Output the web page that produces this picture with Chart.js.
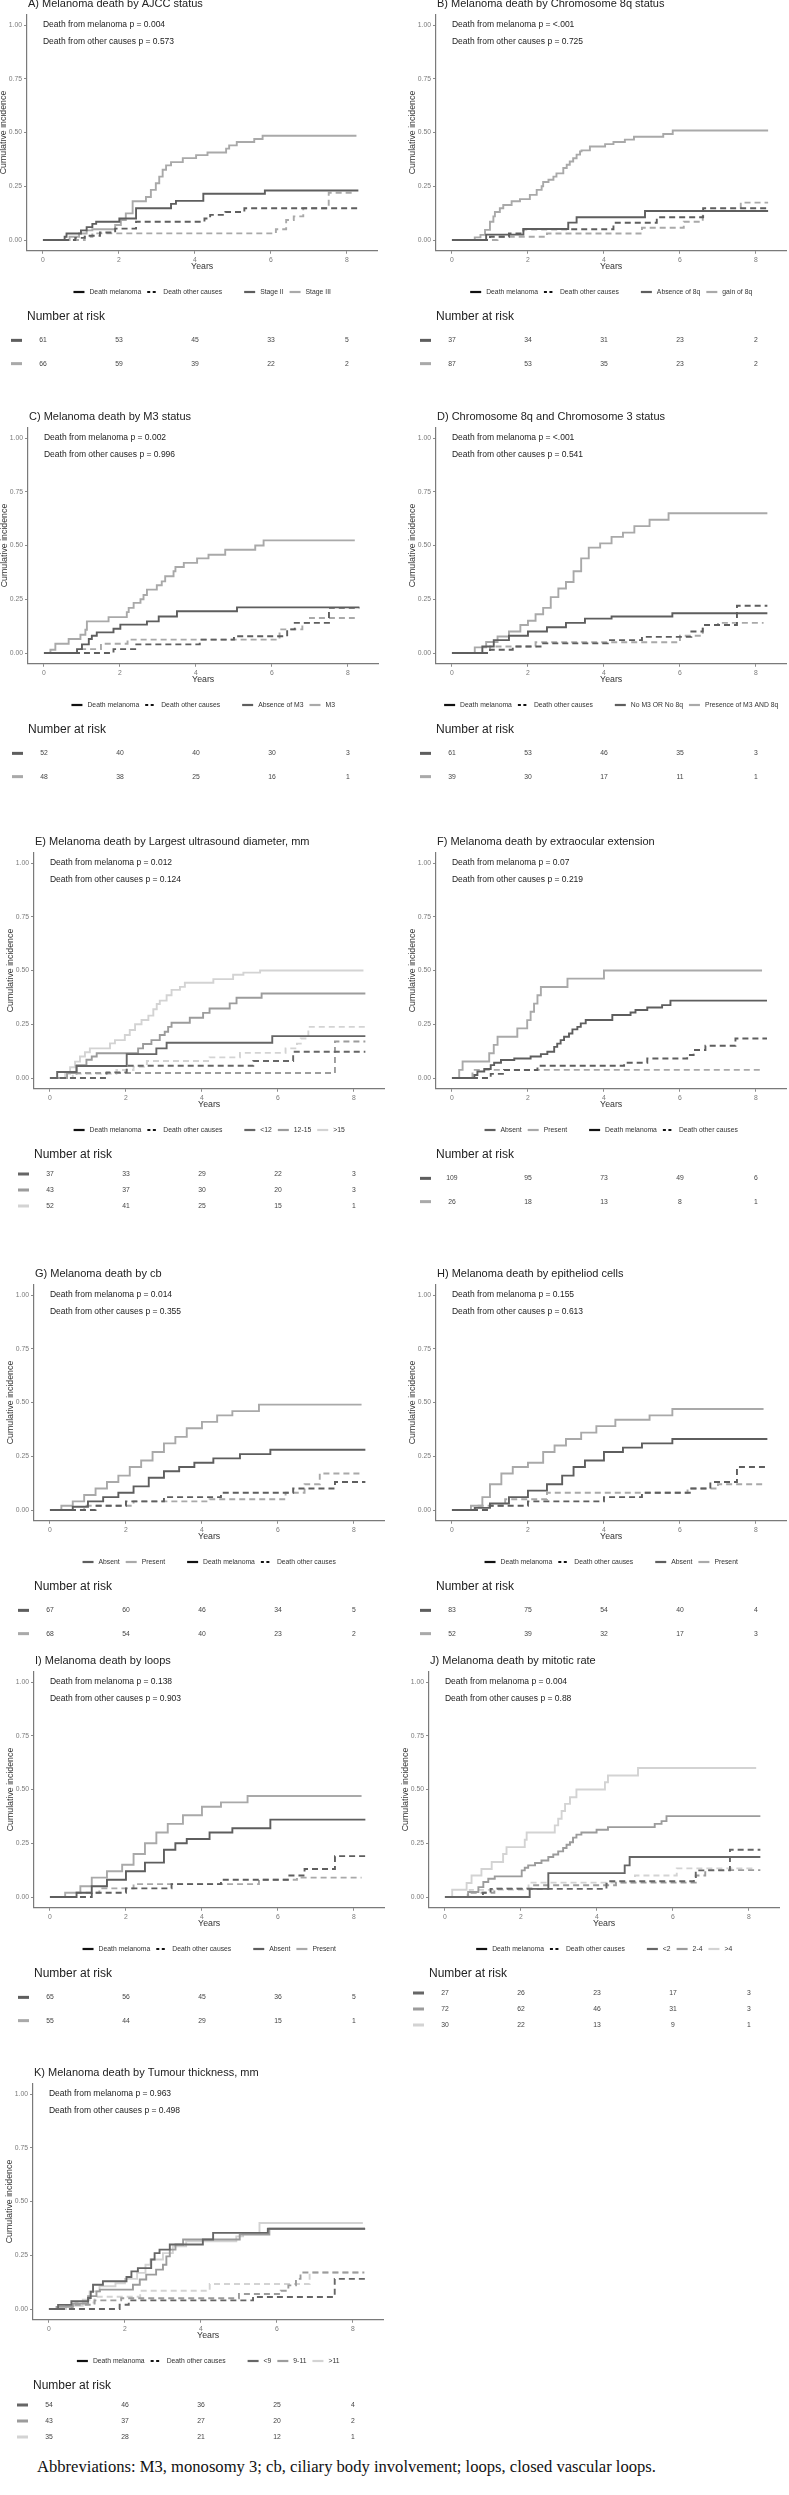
<!DOCTYPE html>
<html>
<head>
<meta charset="utf-8">
<script src="https://cdn.jsdelivr.net/npm/chart.js@4.4.0/dist/chart.umd.min.js"></script>
<style>
  body { margin: 0; background: #fff; width: 789px; height: 2495px; position: relative; overflow: hidden; }
  canvas { position: absolute; }
  #abbr { position: absolute; left: 37px; top: 2457px; font: 16.6px "Liberation Serif", "Times New Roman", serif; color: #111; white-space: nowrap; }
</style>
</head>
<body>
<div id="abbr">Abbreviations: M3, monosomy 3; cb, ciliary body involvement; loops, closed vascular loops.</div>
<script>
// axis ticks
const yearTicks = [0, 2, 4, 6, 8];
const incidenceTicks = [0, 0.25, 0.5, 0.75, 1];

// curves: [years, cumulative incidence]
// A) AJCC
const aStage2Mel = [[0,0],[0.57,0.015],[0.62,0.03],[1.0,0.045],[1.15,0.06],[1.3,0.075],[1.4,0.085],[2.01,0.1],[2.45,0.148],[3.37,0.168],[3.5,0.182],[4.22,0.215],[5.84,0.23],[8.3,0.23]];
const aStage2Oth = [[0,0],[0.85,0.01],[1.1,0.02],[1.5,0.035],[1.9,0.053],[2.45,0.085],[4.25,0.1],[4.4,0.117],[4.8,0.13],[5.3,0.148],[8.3,0.148]];
const aStage3Mel = [[0,0],[0.7,0.015],[0.95,0.03],[1.15,0.045],[1.3,0.05],[1.9,0.07],[2.05,0.093],[2.18,0.124],[2.36,0.18],[2.71,0.2],[2.84,0.233],[2.97,0.264],[3.06,0.295],[3.15,0.327],[3.24,0.347],[3.37,0.362],[3.68,0.381],[4.03,0.395],[4.33,0.407],[4.82,0.425],[4.9,0.44],[5.1,0.456],[5.56,0.47],[5.78,0.485],[8.25,0.485]];
const aStage3Oth = [[0,0],[1.1,0.015],[1.3,0.031],[6.13,0.05],[6.4,0.093],[6.6,0.11],[6.85,0.148],[7.52,0.22],[8.2,0.22]];
// B) 8q
const bAbsMel = [[0,0],[0.9,0.025],[1.88,0.051],[3.06,0.081],[3.28,0.106],[5.08,0.135],[8.32,0.135]];
const bAbsOth = [[0,0],[1.0,0.015],[1.5,0.03],[1.88,0.05],[4.25,0.08],[5.39,0.106],[6.61,0.148],[8.32,0.148]];
const bGainMel = [[0,0],[0.6,0.012],[0.75,0.024],[0.87,0.047],[1.0,0.085],[1.09,0.11],[1.13,0.13],[1.26,0.148],[1.35,0.163],[1.57,0.18],[1.79,0.19],[2.05,0.21],[2.23,0.233],[2.36,0.25],[2.4,0.27],[2.54,0.28],[2.67,0.295],[2.75,0.31],[2.93,0.335],[3.02,0.35],[3.1,0.365],[3.19,0.38],[3.28,0.397],[3.37,0.412],[3.41,0.417],[3.63,0.435],[4.03,0.446],[4.25,0.456],[4.55,0.467],[4.79,0.48],[5.56,0.493],[5.81,0.509],[8.32,0.509]];
const bGainOth = [[0,0],[1.2,0.015],[2.5,0.03],[5.0,0.057],[6.1,0.085],[6.6,0.135],[7.6,0.174],[8.32,0.174]];
// C) M3
const cAbsMel = [[0,0],[0.87,0.018],[1.0,0.04],[1.18,0.065],[1.26,0.08],[1.39,0.096],[1.83,0.113],[2.01,0.132],[2.71,0.147],[3.02,0.17],[3.5,0.194],[5.08,0.212],[8.3,0.212]];
const cAbsOth = [[0,0],[1.83,0.018],[2.4,0.04],[4.1,0.062],[5.0,0.078],[6.4,0.11],[6.6,0.14],[7.5,0.21],[8.3,0.21]];
const cM3Mel = [[0,0],[0.17,0.015],[0.3,0.043],[0.65,0.065],[0.96,0.085],[1.09,0.108],[1.13,0.147],[1.7,0.167],[2.18,0.19],[2.23,0.21],[2.36,0.233],[2.54,0.25],[2.62,0.27],[2.71,0.295],[2.97,0.315],[3.1,0.333],[3.19,0.357],[3.41,0.38],[3.46,0.4],[3.68,0.419],[4.03,0.44],[4.33,0.457],[4.77,0.48],[5.56,0.5],[5.78,0.524],[8.18,0.524]];
const cM3Oth = [[0,0],[0.95,0.018],[1.5,0.043],[2.2,0.062],[6.2,0.11],[6.8,0.14],[7.0,0.163],[8.18,0.163]];
// D) 8q and M3
const dNoMel = [[0,0],[0.8,0.03],[1.1,0.06],[1.5,0.08],[2.0,0.1],[2.5,0.12],[3.0,0.14],[3.5,0.16],[4.2,0.17],[5.8,0.185],[8.3,0.185]];
const dNoOth = [[0,0],[1.0,0.015],[1.6,0.03],[2.4,0.045],[4.1,0.06],[5.0,0.075],[6.3,0.1],[6.6,0.13],[7.5,0.22],[8.3,0.22]];
const dBothMel = [[0,0],[0.6,0.026],[0.9,0.051],[1.2,0.077],[1.5,0.1],[1.8,0.13],[2.0,0.15],[2.2,0.18],[2.4,0.21],[2.6,0.26],[2.8,0.3],[3.0,0.33],[3.2,0.38],[3.4,0.44],[3.6,0.49],[3.9,0.51],[4.2,0.54],[4.5,0.56],[4.8,0.59],[5.2,0.62],[5.7,0.65],[8.3,0.65]];
const dBothOth = [[0,0],[1.0,0.03],[2.2,0.05],[6.0,0.08],[6.6,0.13],[7.0,0.14],[8.2,0.14]];
// E) ultrasound diameter
const eLt12Mel = [[0,0],[0.19,0.028],[0.7,0.056],[2.02,0.111],[2.8,0.138],[3.07,0.164],[5.85,0.195],[8.3,0.195]];
const eLt12Oth = [[0,0],[1.49,0.026],[2.02,0.057],[5.35,0.079],[6.4,0.122],[8.3,0.122]];
const e1215Mel = [[0,0],[0.45,0.023],[0.7,0.06],[0.96,0.085],[1.1,0.1],[1.23,0.115],[2.32,0.138],[2.45,0.158],[2.67,0.176],[2.89,0.2],[3.02,0.215],[3.11,0.238],[3.2,0.257],[3.68,0.28],[4.03,0.303],[4.2,0.323],[4.73,0.347],[4.91,0.373],[5.57,0.393],[8.3,0.393]];
const e1215Oth = [[0,0],[0.7,0.023],[7.5,0.17],[8.3,0.17]];
const eGt15Mel = [[0,0],[0.4,0.02],[0.53,0.05],[0.66,0.076],[0.79,0.1],[0.92,0.12],[1.05,0.138],[1.58,0.161],[1.71,0.176],[1.97,0.2],[2.1,0.223],[2.24,0.25],[2.41,0.27],[2.59,0.29],[2.72,0.32],[2.81,0.344],[2.89,0.36],[3.07,0.385],[3.2,0.41],[3.42,0.424],[3.55,0.443],[4.3,0.46],[4.82,0.48],[5.09,0.49],[5.53,0.5],[8.25,0.5]];
const eGt15Oth = [[0,0],[0.6,0.02],[1.75,0.037],[2.2,0.052],[2.55,0.079],[4.2,0.096],[5.0,0.117],[6.2,0.138],[6.5,0.16],[6.6,0.184],[6.8,0.238],[8.3,0.238]];
// F) extraocular extension
const fAbsMel = [[0,0],[0.59,0.014],[0.67,0.03],[0.85,0.042],[1.02,0.06],[1.11,0.071],[1.29,0.084],[1.64,0.091],[2.07,0.1],[2.34,0.111],[2.51,0.122],[2.69,0.145],[2.77,0.16],[2.86,0.176],[2.95,0.192],[3.08,0.207],[3.17,0.226],[3.3,0.238],[3.39,0.254],[3.52,0.27],[4.22,0.293],[4.7,0.305],[4.83,0.316],[5.14,0.328],[5.53,0.339],[5.75,0.36],[8.29,0.36]];
const fAbsOth = [[0,0],[1.02,0.019],[1.37,0.037],[2.25,0.057],[4.53,0.071],[5.14,0.091],[6.19,0.107],[6.36,0.13],[6.67,0.15],[7.46,0.184],[8.29,0.184]];
const fPresMel = [[0,0],[0.19,0.038],[0.28,0.077],[0.98,0.115],[1.1,0.154],[1.2,0.192],[1.72,0.231],[1.98,0.269],[2.07,0.308],[2.16,0.346],[2.25,0.385],[2.34,0.423],[3.04,0.462],[4.0,0.5],[8.16,0.5]];
const fPresOth = [[0,0],[0.54,0.038],[8.16,0.038]];
// G) cb
const gAbsMel = [[0,0],[0.6,0.015],[1.0,0.04],[1.4,0.06],[1.8,0.08],[2.2,0.11],[2.6,0.15],[3.0,0.18],[3.4,0.2],[3.8,0.22],[4.3,0.24],[5.0,0.26],[5.8,0.28],[8.3,0.28]];
const gAbsOth = [[0,0],[1.2,0.02],[2.0,0.04],[3.0,0.06],[4.5,0.08],[6.4,0.1],[7.5,0.13],[8.3,0.13]];
const gPresMel = [[0,0],[0.3,0.02],[0.6,0.04],[0.9,0.07],[1.2,0.1],[1.5,0.13],[1.8,0.16],[2.1,0.2],[2.4,0.23],[2.7,0.27],[3.0,0.31],[3.3,0.34],[3.6,0.38],[4.0,0.41],[4.4,0.44],[4.8,0.46],[5.5,0.49],[8.2,0.49]];
const gPresOth = [[0,0],[0.9,0.02],[2.2,0.04],[4.2,0.05],[6.2,0.08],[6.7,0.12],[7.1,0.17],[8.2,0.17]];
// H) epithelioid cells
const hAbsMel = [[0,0],[0.6,0.01],[1.0,0.03],[1.5,0.06],[2.0,0.09],[2.5,0.12],[2.9,0.16],[3.2,0.2],[3.5,0.23],[4.0,0.27],[4.5,0.29],[5.0,0.31],[5.8,0.33],[8.3,0.33]];
const hAbsOth = [[0,0],[1.0,0.02],[2.0,0.04],[4.0,0.06],[5.0,0.08],[6.3,0.1],[6.8,0.13],[7.5,0.2],[8.3,0.2]];
const hPresMel = [[0,0],[0.5,0.02],[0.8,0.06],[1.0,0.12],[1.3,0.17],[1.6,0.2],[2.0,0.22],[2.4,0.27],[2.7,0.3],[3.0,0.33],[3.4,0.36],[3.8,0.39],[4.3,0.42],[5.2,0.44],[5.8,0.47],[8.2,0.47]];
const hPresOth = [[0,0],[0.7,0.02],[1.4,0.05],[2.5,0.08],[6.2,0.1],[7.0,0.12],[8.2,0.12]];
// I) loops
const iAbsMel = [[0,0],[0.7,0.02],[1.1,0.05],[1.5,0.08],[2.0,0.12],[2.5,0.16],[3.0,0.22],[3.3,0.25],[3.6,0.27],[4.2,0.3],[4.8,0.32],[5.8,0.36],[8.3,0.36]];
const iAbsOth = [[0,0],[1.1,0.02],[2.0,0.04],[3.2,0.06],[4.5,0.08],[6.3,0.1],[6.7,0.13],[7.5,0.19],[8.3,0.19]];
const iPresMel = [[0,0],[0.4,0.02],[0.8,0.05],[1.1,0.09],[1.5,0.12],[1.9,0.15],[2.2,0.2],[2.5,0.25],[2.8,0.3],[3.1,0.34],[3.5,0.38],[4.0,0.42],[4.5,0.44],[5.2,0.47],[8.2,0.47]];
const iPresOth = [[0,0],[0.7,0.02],[1.3,0.04],[2.2,0.06],[5.5,0.08],[6.5,0.09],[8.2,0.09]];
// J) mitotic rate
const jLt2Mel = [[0,0],[2.23,0.038],[2.72,0.111],[4.73,0.147],[4.86,0.186],[8.3,0.186]];
const jLt2Oth = [[0,0],[1.0,0.02],[1.2,0.038],[4.25,0.062],[4.3,0.073],[6.55,0.093],[6.6,0.124],[7.5,0.22],[8.3,0.22]];
const j24Mel = [[0,0],[0.61,0.023],[0.88,0.046],[1.01,0.07],[1.14,0.085],[1.31,0.096],[2.02,0.124],[2.1,0.136],[2.19,0.147],[2.37,0.158],[2.54,0.17],[2.72,0.186],[2.85,0.198],[2.98,0.212],[3.11,0.228],[3.2,0.243],[3.29,0.255],[3.37,0.276],[3.46,0.29],[3.59,0.3],[3.99,0.313],[4.29,0.325],[5.52,0.34],[5.7,0.353],[5.83,0.376],[8.3,0.376]];
const j24Oth = [[0,0],[0.6,0.02],[1.3,0.04],[2.3,0.055],[4.5,0.067],[6.6,0.1],[6.85,0.125],[8.3,0.125]];
const jGt4Mel = [[0,0],[0.19,0.034],[0.57,0.065],[0.7,0.1],[0.96,0.13],[1.23,0.163],[1.53,0.2],[1.62,0.232],[2.1,0.266],[2.15,0.3],[2.89,0.333],[2.98,0.364],[3.07,0.4],[3.16,0.433],[3.29,0.464],[3.46,0.5],[4.21,0.534],[4.29,0.565],[5.08,0.6],[8.19,0.6]];
const jGt4Oth = [[0,0],[0.65,0.033],[2.2,0.067],[5.0,0.1],[6.1,0.133],[8.19,0.133]];
// K) tumour thickness
const kLt9Mel = [[0,0],[0.24,0.019],[0.59,0.036],[1.03,0.051],[1.1,0.08],[1.16,0.113],[1.42,0.129],[2.04,0.149],[2.17,0.175],[2.34,0.19],[2.69,0.23],[2.78,0.26],[2.91,0.276],[3.18,0.3],[4.05,0.323],[4.32,0.354],[5.76,0.373],[8.32,0.373]];
const kLt9Oth = [[0,0],[1.86,0.02],[2.1,0.04],[5.37,0.056],[7.52,0.14],[8.32,0.14]];
const k911Mel = [[0,0],[0.2,0.01],[0.63,0.025],[1.03,0.06],[1.25,0.082],[1.34,0.09],[2.21,0.113],[2.39,0.137],[2.56,0.16],[2.82,0.183],[3.0,0.206],[3.09,0.245],[3.18,0.276],[3.33,0.3],[3.53,0.323],[5.02,0.346],[5.8,0.373],[8.32,0.373]];
const k911Oth = [[0,0],[0.6,0.02],[1.2,0.04],[1.9,0.05],[5.0,0.07],[6.1,0.085],[6.3,0.11],[6.5,0.14],[6.62,0.17],[8.3,0.17]];
const kGt11Mel = [[0,0],[0.45,0.015],[0.89,0.043],[1.07,0.082],[1.33,0.106],[1.75,0.12],[2.0,0.14],[2.32,0.168],[2.54,0.206],[2.67,0.23],[3.0,0.26],[3.26,0.292],[3.61,0.315],[4.93,0.338],[5.11,0.354],[5.54,0.4],[8.26,0.4]];
const kGt11Oth = [[0,0],[0.7,0.03],[1.2,0.057],[2.4,0.085],[4.23,0.116],[6.86,0.17],[8.26,0.17]];

// number at risk at yearTicks
const riskAStage2 = [61, 53, 45, 33, 5];
const riskAStage3 = [66, 59, 39, 22, 2];
const riskBAbs = [37, 34, 31, 23, 2];
const riskBGain = [87, 53, 35, 23, 2];
const riskCAbs = [52, 40, 40, 30, 3];
const riskCM3 = [48, 38, 25, 16, 1];
const riskDNo = [61, 53, 46, 35, 3];
const riskDBoth = [39, 30, 17, 11, 1];
const riskELt12 = [37, 33, 29, 22, 3];
const riskE1215 = [43, 37, 30, 20, 3];
const riskEGt15 = [52, 41, 25, 15, 1];
const riskFAbs = [109, 95, 73, 49, 6];
const riskFPres = [26, 18, 13, 8, 1];
const riskGAbs = [67, 60, 46, 34, 5];
const riskGPres = [68, 54, 40, 23, 2];
const riskHAbs = [83, 75, 54, 40, 4];
const riskHPres = [52, 39, 32, 17, 3];
const riskIAbs = [65, 56, 45, 36, 5];
const riskIPres = [55, 44, 29, 15, 1];
const riskJLt2 = [27, 26, 23, 17, 3];
const riskJ24 = [72, 62, 46, 31, 3];
const riskJGt4 = [30, 22, 13, 9, 1];
const riskKLt9 = [54, 46, 36, 25, 4];
const riskK911 = [43, 37, 27, 20, 2];
const riskKGt11 = [35, 28, 21, 12, 1];

const FONT = '"Liberation Sans", Arial, sans-serif';
Chart.defaults.font.family = FONT;

const DARK = '#5e5e5e', LIGHT = '#a9a9a9';
const G3 = ['#666666', '#9c9c9c', '#d3d3d3'];

const PX_YEAR = 38, PX_UNIT = 215;
const X_MIN = -0.42, X_MAX = 8.8, Y_MIN = -0.05, Y_MAX = 1.05;
const ZERO = 245;      // canvas y of the 0.00 line
const X_AXIS_H = 20;
// risk table band below the 0.00 line (strata spread evenly, like a discrete axis)
const TABLE_TOP = 86.4, TABLE_H = 51.2;

function rowY(r, n) {
  const step = TABLE_H / (n + 0.2);
  return ZERO + TABLE_TOP + step * (0.6 + r);
}

const panels = [
  { left: 0, zeroY: 240, axis: 27, title: 'A) Melanoma death by AJCC status', pMel: '0.004', pOth: '0.573', typeFirst: true,
    groups: [
      { label: 'Stage II', color: DARK, mel: aStage2Mel, oth: aStage2Oth, risk: riskAStage2 },
      { label: 'Stage III', color: LIGHT, mel: aStage3Mel, oth: aStage3Oth, risk: riskAStage3 }] },
  { left: 395, zeroY: 240, axis: 41, title: 'B) Melanoma death by Chromosome 8q status', pMel: '<.001', pOth: '0.725', typeFirst: true,
    groups: [
      { label: 'Absence of 8q', color: DARK, mel: bAbsMel, oth: bAbsOth, risk: riskBAbs },
      { label: 'gain of 8q', color: LIGHT, mel: bGainMel, oth: bGainOth, risk: riskBGain }] },
  { left: 0, zeroY: 653, axis: 28, title: 'C) Melanoma death by M3 status', pMel: '0.002', pOth: '0.996', typeFirst: true,
    groups: [
      { label: 'Absence of M3', color: DARK, mel: cAbsMel, oth: cAbsOth, risk: riskCAbs },
      { label: 'M3', color: LIGHT, mel: cM3Mel, oth: cM3Oth, risk: riskCM3 }] },
  { left: 395, zeroY: 653, axis: 41, title: 'D) Chromosome 8q and Chromosome 3 status', pMel: '<.001', pOth: '0.541', typeFirst: true,
    groups: [
      { label: 'No M3 OR No 8q', color: DARK, mel: dNoMel, oth: dNoOth, risk: riskDNo },
      { label: 'Presence of M3 AND 8q', color: LIGHT, mel: dBothMel, oth: dBothOth, risk: riskDBoth }] },
  { left: 0, zeroY: 1078, axis: 34, title: 'E) Melanoma death by Largest ultrasound diameter, mm', pMel: '0.012', pOth: '0.124', typeFirst: true,
    groups: [
      { label: '<12', color: G3[0], mel: eLt12Mel, oth: eLt12Oth, risk: riskELt12 },
      { label: '12-15', color: G3[1], mel: e1215Mel, oth: e1215Oth, risk: riskE1215 },
      { label: '>15', color: G3[2], mel: eGt15Mel, oth: eGt15Oth, risk: riskEGt15 }] },
  { left: 395, zeroY: 1078, axis: 41, title: 'F) Melanoma death by extraocular extension', pMel: '0.07', pOth: '0.219', typeFirst: false,
    groups: [
      { label: 'Absent', color: DARK, mel: fAbsMel, oth: fAbsOth, risk: riskFAbs },
      { label: 'Present', color: LIGHT, mel: fPresMel, oth: fPresOth, risk: riskFPres }] },
  { left: 0, zeroY: 1510, axis: 34, title: 'G) Melanoma death by cb', pMel: '0.014', pOth: '0.355', typeFirst: false,
    groups: [
      { label: 'Absent', color: DARK, mel: gAbsMel, oth: gAbsOth, risk: riskGAbs },
      { label: 'Present', color: LIGHT, mel: gPresMel, oth: gPresOth, risk: riskGPres }] },
  { left: 395, zeroY: 1510, axis: 41, title: 'H) Melanoma death by epitheliod cells', pMel: '0.155', pOth: '0.613', typeFirst: true,
    groups: [
      { label: 'Absent', color: DARK, mel: hAbsMel, oth: hAbsOth, risk: riskHAbs },
      { label: 'Present', color: LIGHT, mel: hPresMel, oth: hPresOth, risk: riskHPres }] },
  { left: 0, zeroY: 1897, axis: 34, title: 'I) Melanoma death by loops', pMel: '0.138', pOth: '0.903', typeFirst: true,
    groups: [
      { label: 'Absent', color: DARK, mel: iAbsMel, oth: iAbsOth, risk: riskIAbs },
      { label: 'Present', color: LIGHT, mel: iPresMel, oth: iPresOth, risk: riskIPres }] },
  { left: 395, zeroY: 1897, axis: 34, title: 'J) Melanoma death by mitotic rate', pMel: '0.004', pOth: '0.88', typeFirst: true,
    groups: [
      { label: '<2', color: G3[0], mel: jLt2Mel, oth: jLt2Oth, risk: riskJLt2 },
      { label: '2-4', color: G3[1], mel: j24Mel, oth: j24Oth, risk: riskJ24 },
      { label: '>4', color: G3[2], mel: jGt4Mel, oth: jGt4Oth, risk: riskJGt4 }] },
  { left: 0, zeroY: 2309, axis: 33, title: 'K) Melanoma death by Tumour thickness, mm', pMel: '0.963', pOth: '0.498', typeFirst: true,
    groups: [
      { label: '<9', color: G3[0], mel: kLt9Mel, oth: kLt9Oth, risk: riskKLt9 },
      { label: '9-11', color: G3[1], mel: k911Mel, oth: k911Oth, risk: riskK911 },
      { label: '>11', color: G3[2], mel: kGt11Mel, oth: kGt11Oth, risk: riskKGt11 }] },
];

function stepLine(points, color, dashed) {
  return {
    data: points.map(([x, y]) => ({ x, y })),
    borderColor: color,
    borderWidth: 1.9,
    borderDash: dashed ? [6, 4] : [],
    stepped: 'before',
    pointRadius: 0,
    fill: false,
  };
}

function extras(p) {
  return {
    id: 'extras',
    afterDraw(chart) {
      const ctx = chart.ctx;
      const xs = chart.scales.x, ys = chart.scales.y;
      const ca = chart.chartArea;
      const L = p.axis;
      const x0 = xs.getPixelForValue(0);
      const oneY = ys.getPixelForValue(1);
      const mid = (ca.left + ca.right) / 2;
      ctx.save();
      ctx.textBaseline = 'middle';

      // title + p values
      ctx.fillStyle = '#222';
      ctx.textAlign = 'left';
      ctx.font = '11px ' + FONT;
      ctx.fillText(p.title, L + 1, oneY - 21);
      ctx.font = '8.5px ' + FONT;
      ctx.fillText('Death from melanoma p = ' + p.pMel, x0, oneY);
      ctx.fillText('Death from other causes p = ' + p.pOth, x0, oneY + 17);

      // axis titles
      ctx.fillStyle = '#333';
      ctx.textAlign = 'center';
      ctx.font = '8.8px ' + FONT;
      ctx.fillText('Years', mid, ZERO + 27);
      ctx.save();
      ctx.translate(L - 23, (ca.top + ca.bottom) / 2);
      ctx.rotate(-Math.PI / 2);
      ctx.fillText('Cumulative incidence', 0, 0);
      ctx.restore();

      // legend: linetype block and colour block
      ctx.font = '6.8px ' + FONT;
      const typeItems = [
        { label: 'Death melanoma', color: '#111', dash: [] },
        { label: 'Death other causes', color: '#111', dash: [3, 2.5] }];
      const colItems = p.groups.map(g => ({ label: g.label, color: g.color, dash: [] }));
      const blocks = p.typeFirst ? [typeItems, colItems] : [colItems, typeItems];
      const KEY = 11, KGAP = 5, IGAP = 6, BGAP = 22;
      const blockW = b => b.reduce((s, it) => s + KEY + KGAP + ctx.measureText(it.label).width, 0) + (b.length - 1) * IGAP;
      const total = blockW(blocks[0]) + BGAP + blockW(blocks[1]);
      let lx = mid - total / 2;
      const ly = ZERO + 52;
      ctx.textAlign = 'left';
      blocks.forEach((b, bi) => {
        b.forEach((it, ii) => {
          ctx.beginPath();
          ctx.strokeStyle = it.color;
          ctx.lineWidth = 2.2;
          ctx.setLineDash(it.dash);
          ctx.moveTo(lx, ly);
          ctx.lineTo(lx + KEY, ly);
          ctx.stroke();
          ctx.setLineDash([]);
          lx += KEY + KGAP;
          ctx.fillStyle = '#333';
          ctx.fillText(it.label, lx, ly);
          lx += ctx.measureText(it.label).width + (ii < b.length - 1 ? IGAP : 0);
        });
        if (bi === 0) lx += BGAP;
      });

      // number at risk table
      ctx.fillStyle = '#222';
      ctx.font = '12px ' + FONT;
      ctx.fillText('Number at risk', L, ZERO + 77);
      ctx.font = '6.8px ' + FONT;
      ctx.textAlign = 'center';
      const n = p.groups.length;
      p.groups.forEach((g, r) => {
        const y = rowY(r, n);
        ctx.fillStyle = g.color;
        ctx.fillRect(L - 16, y - 1.5, 11, 3);
        ctx.fillStyle = '#444';
        g.risk.forEach((v, i) => ctx.fillText(String(v), xs.getPixelForValue(yearTicks[i]), y));
      });
      ctx.restore();
    }
  };
}

function buildPanel(p) {
  const W = 394;
  const rows = p.groups.length;
  const H = Math.ceil(rowY(rows - 1, rows)) + 12;
  const cv = document.createElement('canvas');
  cv.width = W;
  cv.height = H;
  cv.style.left = p.left + 'px';
  cv.style.top = (p.zeroY - ZERO) + 'px';
  document.body.appendChild(cv);

  const L = p.axis;
  const right = L + (X_MAX - X_MIN) * PX_YEAR;
  const top = ZERO - Y_MAX * PX_UNIT;
  const bottom = ZERO - Y_MIN * PX_UNIT;

  const datasets = [];
  p.groups.forEach(g => {
    datasets.push(stepLine(g.oth, g.color, true));
    datasets.push(stepLine(g.mel, g.color, false));
  });

  const axisGrid = { drawOnChartArea: false, drawTicks: true, tickLength: 3, color: '#8c8c8c' };
  const axisBorder = { display: true, color: '#7a7a7a', width: 1.2 };

  new Chart(cv, {
    type: 'line',
    data: { datasets },
    options: {
      responsive: false,
      animation: false,
      layout: { padding: { left: 0, top: top, right: W - right, bottom: H - bottom - X_AXIS_H } },
      plugins: { legend: { display: false }, tooltip: { enabled: false } },
      scales: {
        x: {
          type: 'linear', min: X_MIN, max: X_MAX,
          afterBuildTicks: s => { s.ticks = yearTicks.map(v => ({ value: v })); },
          afterFit: s => { s.height = X_AXIS_H; },
          grid: axisGrid,
          border: axisBorder,
          ticks: { color: '#7a7a7a', font: { size: 6.8 }, padding: 2, maxRotation: 0, autoSkip: false, callback: v => String(v) },
        },
        y: {
          type: 'linear', min: Y_MIN, max: Y_MAX,
          afterBuildTicks: s => { s.ticks = incidenceTicks.map(v => ({ value: v })); },
          afterFit: s => { s.width = L; },
          grid: axisGrid,
          border: axisBorder,
          ticks: { color: '#7a7a7a', font: { size: 6.8 }, padding: 2, autoSkip: false, callback: v => v.toFixed(2) },
        },
      },
    },
    plugins: [extras(p)],
  });
}

panels.forEach(buildPanel);
</script>
</body>
</html>
